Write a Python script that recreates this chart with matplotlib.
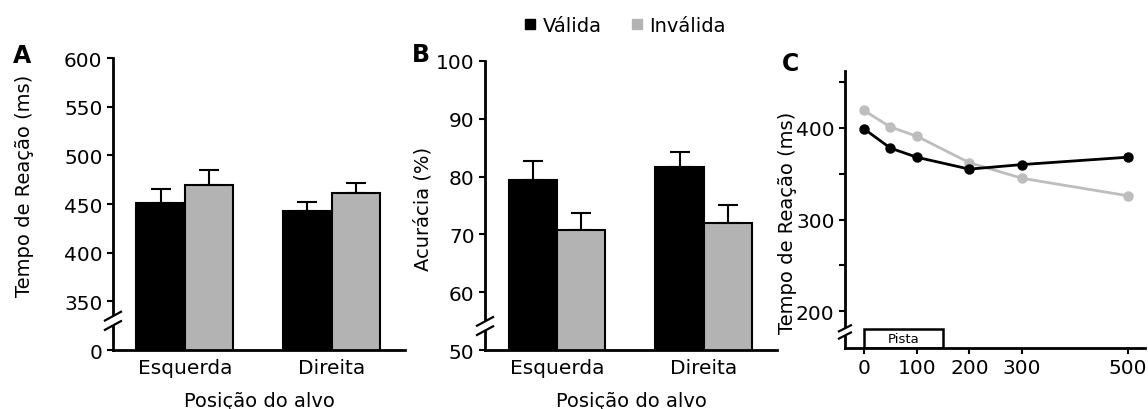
import numpy as np
import matplotlib.pyplot as plt
from matplotlib.lines import Line2D
from matplotlib.patches import Rectangle

plt.rcParams.update({
    "font.family": "DejaVu Sans",
    "font.size": 14,
})

# ---- data ----
positions = ["Esquerda", "Direita"]
conditions = ["Válida", "Inválida"]

rt_valid = [451, 443]
rt_valid_err = [14, 9]
rt_invalid = [470, 461]
rt_invalid_err = [15, 11]

acc_valid = [79.4, 81.6]
acc_valid_err = [3.3, 2.6]
acc_invalid = [70.7, 72.0]
acc_invalid_err = [3.0, 3.1]

soa = [0, 50, 100, 200, 300, 500]
rt_soa_valid = [399, 378, 368, 355, 360, 368]
rt_soa_invalid = [419, 401, 391, 362, 345, 326]

BLACK = "#000000"
GRAY = "#b3b3b3"
LGRAY = "#bdbdbd"
W = 0.33

fig = plt.figure(figsize=(11.48, 4.10), dpi=100)
axA = fig.add_axes([0.0984, 0.1439, 0.2544, 0.712])
axB = fig.add_axes([0.4225, 0.1439, 0.2545, 0.7049])
axC = fig.add_axes([0.736, 0.1488, 0.261, 0.6756])


def style_axes(ax):
    for s in ["top", "right"]:
        ax.spines[s].set_visible(False)
    for s in ["left", "bottom"]:
        ax.spines[s].set_linewidth(2.0)
    ax.tick_params(width=1.5, length=4, direction="out", labelsize=14.5)


def y_break(ax, yfrac, dx=0.055, dy=0.03, gap=0.032):
    # white gap on the spine plus two slanted strokes
    ax.add_patch(Rectangle((-0.02, yfrac - gap / 2), 0.04, gap, transform=ax.transAxes,
                           facecolor="white", edgecolor="none", clip_on=False, zorder=5))
    for y0 in (yfrac - gap / 2, yfrac + gap / 2):
        ax.add_line(Line2D([-dx / 2, dx / 2], [y0 - dy / 2, y0 + dy / 2], transform=ax.transAxes,
                           color="black", lw=1.6, clip_on=False, zorder=6))


def bar_panel(ax, v, verr, inv, inverr):
    x = np.arange(len(positions))
    ax.bar(x - W / 2, v, W, color=BLACK, edgecolor="black", linewidth=1.5, zorder=2)
    ax.bar(x + W / 2, inv, W, color=GRAY, edgecolor="black", linewidth=1.5, zorder=2)
    ax.errorbar(x - W / 2, v, yerr=[np.zeros(len(v)), verr], fmt="none", ecolor="black",
                elinewidth=1.5, capsize=7, capthick=1.5, zorder=1)
    ax.errorbar(x + W / 2, inv, yerr=[np.zeros(len(inv)), inverr], fmt="none", ecolor="black",
                elinewidth=1.5, capsize=7, capthick=1.5, zorder=1)
    ax.set_xticks(x)
    ax.set_xticklabels(positions)
    ax.tick_params(axis="x", length=0, pad=6)
    ax.set_xlim(-0.49, 1.5)
    ax.set_xlabel("Posição do alvo", labelpad=10)


# ---- A ----
style_axes(axA)
bar_panel(axA, rt_valid, rt_valid_err, rt_invalid, rt_invalid_err)
axA.set_ylim(300, 600)
axA.set_yticks([300, 350, 400, 450, 500, 550, 600])
axA.set_yticklabels(["0", "350", "400", "450", "500", "550", "600"])
axA.set_ylabel("Tempo de Reação (ms)")
axA.yaxis.set_label_coords(-0.27, 0.565)
y_break(axA, 0.1)
fig.text(0.011, 0.846, "A", fontsize=17, fontweight="bold")

# ---- B ----
style_axes(axB)
bar_panel(axB, acc_valid, acc_valid_err, acc_invalid, acc_invalid_err)
axB.set_ylim(50, 100)
axB.set_yticks([50, 60, 70, 80, 90, 100])
axB.set_ylabel("Acurácia (%)")
axB.yaxis.set_label_coords(-0.18, 0.49)
y_break(axB, 0.083)
fig.text(0.359, 0.849, "B", fontsize=17, fontweight="bold")

handles = [Line2D([], [], marker="s", ls="none", color=BLACK, markersize=7),
           Line2D([], [], marker="s", ls="none", color=GRAY, markersize=7)]
fig.legend(handles, conditions, loc="center", bbox_to_anchor=(0.542, 0.935), ncol=2,
           frameon=False, handletextpad=0.05, columnspacing=1.2, handlelength=1.2, fontsize=14)

# ---- C ----
style_axes(axC)
axC.plot(soa, rt_soa_invalid, color=LGRAY, lw=2, marker="o", markersize=6.5, zorder=3)
axC.plot(soa, rt_soa_valid, color=BLACK, lw=2, marker="o", markersize=6.5, zorder=4)
axC.set_ylim(160, 462)
axC.set_xlim(-36, 532)
axC.set_yticks([200, 300, 400])
axC.set_yticks([250, 350, 450], minor=True)
axC.tick_params(axis="y", which="minor", length=4, width=1.5)
axC.set_xticks([0, 100, 200, 300, 500])
axC.set_ylabel("Tempo de Reação (ms)")
axC.yaxis.set_label_coords(-0.16, 0.455)
axC.add_patch(Rectangle((0, 160), 150, 21, facecolor="white", edgecolor="black",
                        linewidth=1.8, zorder=2))
axC.text(75, 170.5, "Pista", ha="center", va="center", fontsize=9.5)
y_break(axC, 0.058, dx=0.04, dy=0.022, gap=0.026)
fig.text(0.681, 0.826, "C", fontsize=17, fontweight="bold")

fig.savefig("out.png", dpi=100)
